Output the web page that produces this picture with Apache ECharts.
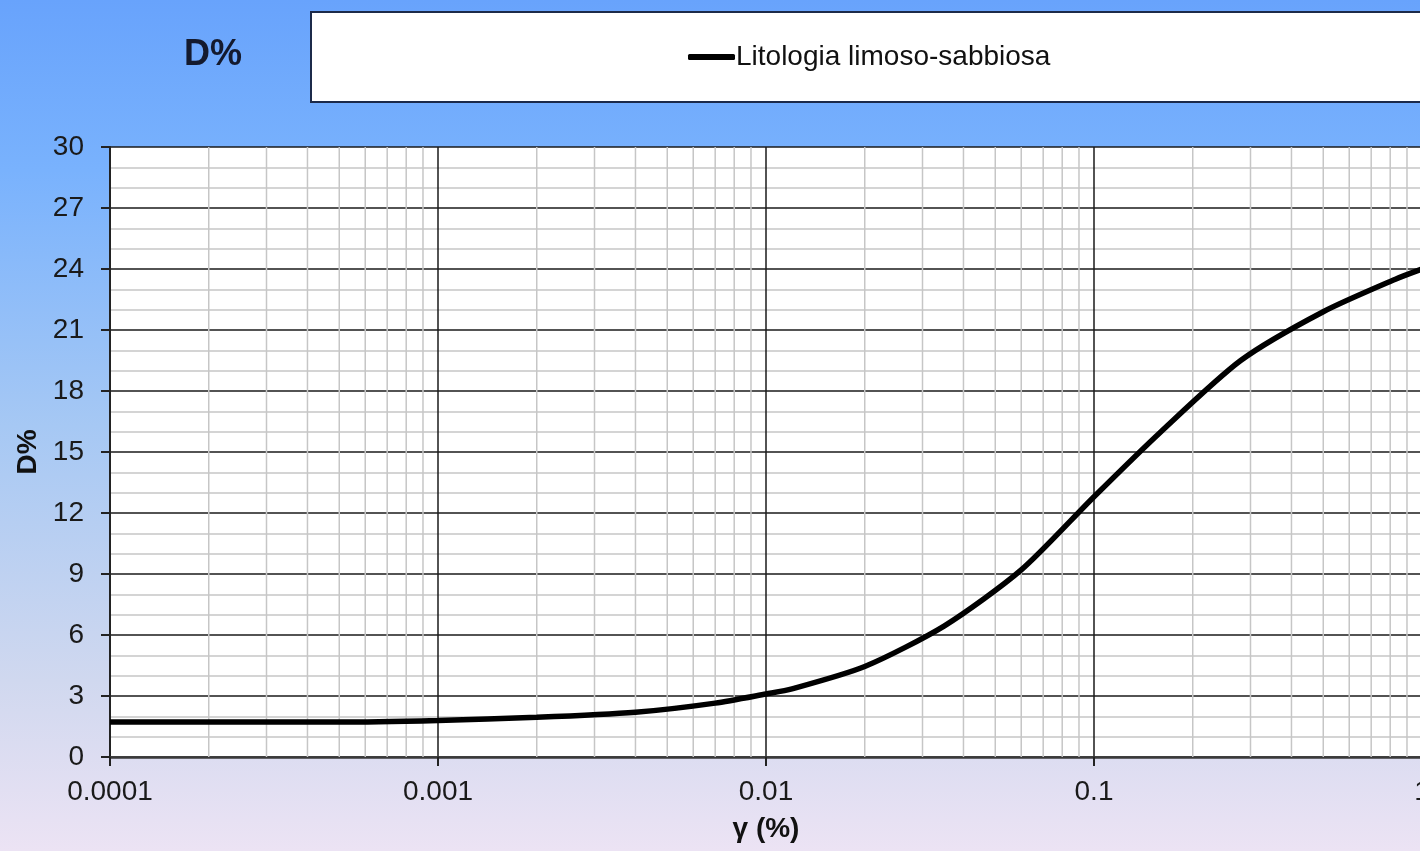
<!DOCTYPE html>
<html>
<head>
<meta charset="utf-8">
<script src="https://cdn.jsdelivr.net/npm/echarts@6/dist/echarts.min.js"></script>
<style>html,body{margin:0;padding:0;}#c{width:1420px;height:851px;}</style>
</head>
<body>
<div id="c"></div>
<script>
// Data (gamma %, D %)
const seriesName = 'Litologia limoso-sabbiosa';
const gammaValues = [0.0001, 0.0005, 0.001, 0.002, 0.004, 0.007, 0.01, 0.012, 0.02, 0.035, 0.06, 0.1, 0.16, 0.28, 0.5, 0.83, 1];
const dampingValues = [1.72, 1.72, 1.8, 1.95, 2.2, 2.65, 3.1, 3.35, 4.45, 6.45, 9.2, 12.8, 16.0, 19.5, 21.9, 23.5, 24.0];
const minorGammaLines = [
  0.0002, 0.0003, 0.0004, 0.0005, 0.0006, 0.0007, 0.0008, 0.0009,
  0.002, 0.003, 0.004, 0.005, 0.006, 0.007, 0.008, 0.009,
  0.02, 0.03, 0.04, 0.05, 0.06, 0.07, 0.08, 0.09,
  0.2, 0.3, 0.4, 0.5, 0.6, 0.7, 0.8, 0.9
];
const yRange = [0, 30];
const titleText = 'D%';
const xAxisTitle = 'γ (%)';
const yAxisTitle = 'D%';

const font = '"Liberation Sans", Arial, sans-serif';

// minor vertical grid lines as broken line segments through the axis scales
const minorGridData = [];
minorGammaLines.forEach(function (g) {
  minorGridData.push([g, yRange[0]]);
  minorGridData.push([g, yRange[1]]);
  minorGridData.push([g, '-']);
});

const chart = echarts.init(document.getElementById('c'));
chart.setOption({
  animation: false,
  backgroundColor: {
    type: 'linear', x: 0, y: 0, x2: 0, y2: 1,
    colorStops: [
      { offset: 0, color: '#68a3fc' },
      { offset: 0.2, color: '#79b2fd' },
      { offset: 0.5, color: '#a6c8f4' },
      { offset: 0.8, color: '#d0d8ef' },
      { offset: 1, color: '#ece3f4' }
    ]
  },
  graphic: [
    {
      type: 'rect', left: 310, top: 11, z: 0,
      shape: { width: 1200, height: 90 },
      style: { fill: '#ffffff', stroke: '#1c2a4a', lineWidth: 2 }
    }
  ],
  title: {
    text: titleText,
    left: 208, top: 32, textAlign: 'center',
    textStyle: { fontFamily: font, fontSize: 36, fontWeight: 'bold', color: '#141a2e' }
  },
  legend: {
    data: [seriesName],
    left: 688, top: 43, padding: 0,
    icon: 'roundRect',
    itemWidth: 47, itemHeight: 6, itemGap: 0,
    itemStyle: { color: '#000' },
    textStyle: { fontFamily: font, fontSize: 28, color: '#111', padding: [0, 0, 0, -4] }
  },
  grid: {
    left: 110, top: 147, width: 1312, height: 610,
    outerBoundsMode: 'none', containLabel: false,
    show: true, backgroundColor: '#ffffff', borderWidth: 0
  },
  xAxis: {
    type: 'log', logBase: 10, min: 0.0001, max: 1,
    name: xAxisTitle, nameLocation: 'middle', nameGap: 58,
    nameTextStyle: { fontFamily: font, fontSize: 28, fontWeight: 'bold', color: '#111' },
    axisLine: { show: true, lineStyle: { color: '#3a3a3a', width: 2.5 } },
    axisTick: { show: true, inside: false, length: 9, lineStyle: { color: '#222', width: 2 } },
    axisLabel: {
      fontFamily: font, fontSize: 28, color: '#1a1a1a', margin: 21,
      formatter: function (v) { return String(+v.toPrecision(6)); }
    },
    splitLine: { show: true, lineStyle: { color: '#1a1a1a', width: 1.5 } },
    minorTick: { show: false },
    minorSplitLine: { show: false }
  },
  yAxis: {
    type: 'value', min: yRange[0], max: yRange[1], interval: 3,
    name: yAxisTitle, nameLocation: 'middle', nameGap: 68, nameRotate: 90,
    nameTextStyle: { fontFamily: font, fontSize: 28, fontWeight: 'bold', color: '#111' },
    axisLine: { show: true, lineStyle: { color: '#222', width: 2 } },
    axisTick: { show: true, inside: false, length: 9, lineStyle: { color: '#222', width: 2 } },
    axisLabel: { fontFamily: font, fontSize: 28, color: '#1a1a1a', margin: 26 },
    splitLine: { show: true, lineStyle: { color: '#1a1a1a', width: 1.5 } },
    minorTick: { show: false, splitNumber: 3 },
    minorSplitLine: { show: true, lineStyle: { color: '#c6c6c6', width: 1.5 } }
  },
  series: [
    {
      name: 'minorGrid', type: 'line', z: 1, silent: true,
      data: minorGridData, connectNulls: false,
      showSymbol: false, symbol: 'none',
      lineStyle: { color: '#c6c6c6', width: 1.5 },
      emphasis: { disabled: true }
    },
    {
      name: seriesName, type: 'line', z: 3,
      data: gammaValues.map(function (g, i) { return [g, dampingValues[i]]; }),
      showSymbol: false, symbol: 'none', smooth: 0.25,
      lineStyle: { color: '#000', width: 5.5 },
      itemStyle: { color: '#000' }
    }
  ]
});
</script>
</body>
</html>
